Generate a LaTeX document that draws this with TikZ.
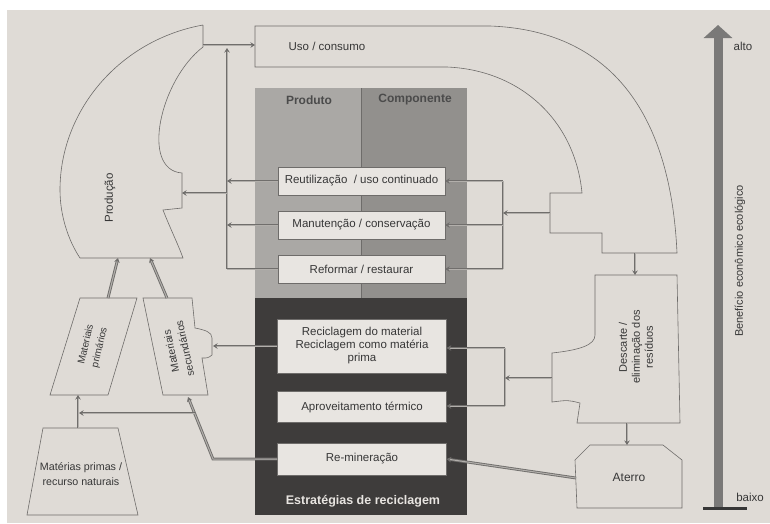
\documentclass[tikz,border=0pt]{standalone}
\usepackage{fontspec}
\setmainfont{Liberation Sans}
\usepackage{xcolor}
\usetikzlibrary{arrows.meta,positioning}

\definecolor{pagebg}{RGB}{223,219,214}
\definecolor{boxfill}{RGB}{232,229,225}
\definecolor{lightcol}{RGB}{170,168,165}
\definecolor{midcol}{RGB}{146,144,141}
\definecolor{darkpanel}{RGB}{62,60,59}
\definecolor{edgegray}{RGB}{110,108,106}
\definecolor{flowgray}{RGB}{112,110,108}
\definecolor{flowcore}{RGB}{178,175,171}
\definecolor{textgray}{RGB}{55,55,55}
\definecolor{bargray}{RGB}{122,121,120}

\begin{document}
\begin{tikzpicture}[
    x=1pt, y=-1pt,
    font=\fontsize{11.5}{13.5}\selectfont,
    outline/.style={draw=edgegray, line width=0.6pt},
    stratbox/.style={rectangle, draw=edgegray, fill=boxfill, minimum width=167, minimum height=28, text=textgray, align=center, inner sep=2pt},
    head/.style={font=\fontsize{12}{14}\selectfont\bfseries, text=textgray!90},
    txt/.style={text=textgray, align=center},
    flow/.style={draw=flowgray, double=flowcore, double distance=1pt, line width=0.9pt},
    arrow/.style={flow, -{Stealth[length=4.5pt, width=5.5pt]}},
    bar/.style={line width=9pt, draw=bargray, -{Triangle[length=13pt, width=28pt]}}
]
% Page
\fill[white] (0,0) rectangle (770,523);
\fill[pagebg] (7,10) rectangle (770,523);
\useasboundingbox (0,0) rectangle (770,523);

% Strategy panel
\fill[lightcol] (255,88) rectangle (361,298);
\fill[midcol] (361,88) rectangle (467,298);
\fill[darkpanel] (255,298) rectangle (467,515);
\draw[edgegray, line width=0.4pt] (361,88) -- (361,298);
\node[head] (produto) at (309,100) {Produto};
\node[head] (componente) at (415,100) {Componente};
\node[head, font=\fontsize{12.5}{14}\selectfont\bfseries, text=boxfill] (estrat) at (363,501) {Estratégias de reciclagem};

% Strategy boxes
\node[stratbox] (reuse) at (361.5,181) {Reutilização\ \ / uso continuado};
\node[stratbox] (maint) at (361.5,225) {Manutenção / conservação};
\node[stratbox] (refurb) at (361.5,269) {Reformar / restaurar};
\node[stratbox, minimum width=169, minimum height=54, font=\fontsize{11.5}{13}\selectfont] (recyc) at (362,346) {Reciclagem do material\\Reciclagem como matéria\\prima};
\node[stratbox, minimum width=169, minimum height=31] (thermal) at (362,407) {Aproveitamento térmico};
\node[stratbox, minimum width=169, minimum height=32] (remin) at (362,459) {Re-mineração};

% Uso / consumo
\draw[outline] (255,26) -- (490,26) .. controls (600,30) and (670,100) .. (677,253) -- (602,253) -- (602,233) -- (550,233) -- (550,193) -- (582,193) .. controls (575,120) and (520,70) .. (447,67) -- (255,67) -- cycle;
\node[txt] (uso) at (327,46) {Uso / consumo};
\coordinate (usoL) at (255,45);
\coordinate (usoS) at (550,213);
\coordinate (usoB) at (635,253);

% Producao
\draw[outline] (203,25) -- (203,47) .. controls (160,80) and (140,170) .. (182,173) -- (182,208) -- (163,210) .. controls (170,228) and (178,244) .. (183,258) -- (80,258) .. controls (68,240) and (60,215) .. (60,190) .. controls (60,110) and (120,40) .. (203,25);
\node[txt, rotate=90] (producao) at (110,198) {Produção};
\coordinate (prodR) at (203,45);
\coordinate (prodN) at (182,193);
\coordinate (prodB1) at (118,258);
\coordinate (prodB2) at (150,258);

% Descarte
\draw[outline] (595,275) -- (677,275) -- (680,423) -- (577,423) -- (580,403) .. controls (568,400) .. (552,402) -- (552,353) .. controls (580,350) and (595,345) .. (595,335) -- cycle;
\node[txt, rotate=90, font=\fontsize{11}{13}\selectfont] (descarte) at (636,347) {Descarte /\\eliminação dos\\resíduos};
\coordinate (descT) at (635,275);
\coordinate (descL) at (552,378);
\coordinate (descB) at (627,423);

% Aterro
\draw[outline] (590,445) -- (663,445) -- (682,460) -- (682,508) -- (577,508) -- (575,460) -- cycle;
\node[txt, font=\fontsize{12}{14}\selectfont] (aterro) at (629,477) {Aterro};
\coordinate (aterroT) at (627,445);
\coordinate (aterroL) at (576,478);

% Materiais
\draw[outline] (80,298) -- (137,298) -- (108,395) -- (50,395) -- cycle;
\node[txt, rotate=77, font=\fontsize{10}{14}\selectfont] (matprim) at (93,346) {Materiais\\primários};
\draw[outline] (143,298) -- (192,298) -- (195,328) .. controls (205,330) and (212,332) .. (212,338) -- (212,355) .. controls (208,358) .. (202,358) -- (208,395) -- (163,395) -- cycle;
\node[txt, rotate=102, font=\fontsize{10.5}{14}\selectfont] (matsec) at (178,350) {Materiais\\secundários};
\coordinate (primT) at (108,298);
\coordinate (primB) at (78,395);
\coordinate (primJ) at (79,413);
\coordinate (secT) at (167,298);
\coordinate (secN) at (213,346);
\coordinate (secB) at (188,397);

% Materias primas
\draw[outline] (43,428) -- (118,428) -- (138,515) -- (27,515) -- cycle;
\node[txt, font=\fontsize{10.7}{15}\selectfont] (natural) at (81,474) {Matérias primas /\\recurso naturais};
\coordinate (natT) at (78,428);

% Feedback to production
\coordinate (lbTop) at (227,48);
\coordinate (lbBot) at (227,269);
\draw[arrow] (prodR) -- (usoL);
\draw[arrow] (lbBot) -- (lbTop);
\draw[arrow] (reuse.west) -- (reuse.west -| lbTop);
\draw[arrow] (maint.west) -- (maint.west -| lbTop);
\draw[flow] (refurb.west) -- (lbBot);
\draw[arrow] (prodN -| lbTop) -- (prodN);

% From use
\coordinate (rbTop) at (503,181);
\coordinate (rbBot) at (503,269);
\draw[flow] (rbTop) -- (rbBot);
\draw[arrow] (usoS) -- (usoS -| rbTop);
\draw[arrow] (rbTop) -- (reuse.east);
\draw[arrow] (maint.east -| rbTop) -- (maint.east);
\draw[arrow] (rbBot) -- (refurb.east);
\draw[arrow] (usoB) -- (descT);

% From disposal
\coordinate (rcTop) at (505,348);
\coordinate (rcBot) at (505,406);
\draw[flow] (rcTop) -- (rcBot);
\draw[arrow] (descL) -- (descL -| rcTop);
\draw[arrow] (rcTop) -- (rcTop -| recyc.east);
\draw[arrow] (rcBot) -- (rcBot -| thermal.east);
\draw[arrow] (descB) -- (aterroT);
\draw[arrow] (aterroL) -- (remin.east);

% Back to materials
\coordinate (remBend) at (213,459);
\coordinate (split) at (194.5,413);
\draw[arrow] (recyc.west) -- (secN);
\draw[arrow] (remin.west) -- (remBend) -- (secB);
\draw[arrow] (split) -- (primJ);
\draw[arrow] (natT) -- (primB);
\draw[arrow] (primT) -- (prodB1);
\draw[arrow] (secT) -- (prodB2);

% Benefit scale
\coordinate (barBot) at (718,508);
\coordinate (barTop) at (718,25);
\draw[bar] (barBot) -- (barTop);
\draw[line width=3pt, textgray] (703,508) -- (747,508);
\node[txt] (alto) at (743,46) {alto};
\node[txt] (baixo) at (750,497) {baixo};
\node[txt, rotate=90, font=\fontsize{11}{13}\selectfont] (benef) at (740,261) {Benefício econômico ecológico};

\end{tikzpicture}
\end{document}
